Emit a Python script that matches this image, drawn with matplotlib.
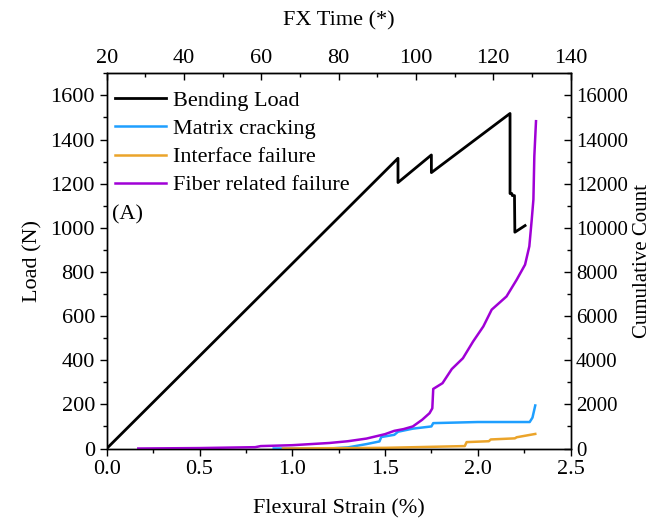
import matplotlib
matplotlib.use('Agg')
import matplotlib.pyplot as plt
from matplotlib.ticker import MultipleLocator

plt.rcParams['font.family'] = ['Liberation Serif', 'DejaVu Serif']
plt.rcParams['mathtext.fontset'] = 'stix'

# bending load curve
strain_load = [0, 1.57, 1.57, 1.75, 1.75, 2.174, 2.174, 2.184, 2.186, 2.198, 2.200, 2.255]
load = [0, 1315, 1205, 1330, 1250, 1518, 1155, 1155, 1146, 1146, 980, 1010]

# cumulative AE counts per damage mode
strain_matrix = [0.9, 1.2, 1.3, 1.4, 1.47, 1.48, 1.55, 1.57, 1.65, 1.70, 1.75, 1.76, 2.0, 2.28, 2.295, 2.31]
count_matrix = [0, 0, 50, 200, 320, 520, 620, 760, 900, 950, 1000, 1150, 1200, 1200, 1400, 1950]

strain_interface = [0.95, 1.5, 1.93, 1.94, 2.06, 2.07, 2.2, 2.21, 2.31]
count_interface = [0, 30, 110, 290, 330, 410, 460, 510, 660]

strain_fiber = [0.17, 0.5, 0.80, 0.83, 1.0, 1.2, 1.3, 1.4, 1.5, 1.55, 1.6, 1.65, 1.70, 1.74,
                1.755, 1.76, 1.81, 1.86, 1.92, 1.975, 2.03, 2.075, 2.155, 2.21, 2.255,
                2.278, 2.291, 2.30, 2.305, 2.314]
count_fiber = [0, 20, 60, 110, 150, 250, 330, 450, 650, 800, 880, 1000, 1300, 1600,
               1820, 2700, 2960, 3600, 4090, 4850, 5530, 6290, 6890, 7650, 8330,
               9160, 10370, 11280, 13245, 14830]

fig = plt.figure(figsize=(6.55, 5.25), dpi=100)
ax = fig.add_axes([0.163, 0.1457, 0.708, 0.7147])
ax2 = ax.twinx()

fs = 16
l1, = ax.plot(strain_load, load, color='black', lw=2.0, label='Bending Load')
l2, = ax2.plot(strain_matrix, count_matrix, color='#1E9FFF', lw=1.8, label='Matrix cracking')
l3, = ax2.plot(strain_interface, count_interface, color='#EBA42A', lw=1.8, label='Interface failure')
l4, = ax2.plot(strain_fiber, count_fiber, color='#A000D6', lw=1.8, label='Fiber related failure')

ax.set_xlim(0, 2.5)
ax.set_ylim(0, 1700)
ax2.set_ylim(0, 17000)

ax.xaxis.set_major_locator(MultipleLocator(0.5))
ax.xaxis.set_minor_locator(MultipleLocator(0.25))
ax.yaxis.set_major_locator(MultipleLocator(200))
ax.yaxis.set_minor_locator(MultipleLocator(100))
ax2.yaxis.set_major_locator(MultipleLocator(2000))
ax2.yaxis.set_minor_locator(MultipleLocator(1000))

ax.tick_params(axis='both', which='major', direction='out', length=5, width=1, labelsize=fs)
ax.tick_params(axis='both', which='minor', direction='out', length=3, width=1)
ax2.tick_params(axis='y', which='major', direction='in', length=5, width=1, labelsize=15, pad=4)
ax2.tick_params(axis='y', which='minor', direction='in', length=3, width=1)

top = ax.secondary_xaxis('top', functions=(lambda s: 20 + 48 * s, lambda t: (t - 20) / 48))
top.xaxis.set_major_locator(MultipleLocator(20))
top.xaxis.set_minor_locator(MultipleLocator(10))
top.tick_params(axis='x', which='major', direction='in', length=5, width=1, labelsize=fs)
top.tick_params(axis='x', which='minor', direction='in', length=3, width=1)
top.set_xlabel('FX Time (*)', fontsize=fs, labelpad=17)

for a in (ax, ax2):
    for sp in a.spines.values():
        sp.set_linewidth(1.0)

ax.set_xlabel('Flexural Strain (%)', fontsize=fs, labelpad=14)
ax.set_ylabel('Load (N)', fontsize=fs, labelpad=6)
ax2.set_ylabel('Cumulative Count', fontsize=15)
ax2.yaxis.set_label_coords(1.134, 0.5)

ax.text(0.03, 1060, '(A)', fontsize=fs, va='center', ha='left')

ax2.legend(handles=[l1, l2, l3, l4], loc='upper left', bbox_to_anchor=(0.018, 0.954),
           frameon=False, fontsize=fs, handlelength=2.3, handletextpad=0.3,
           labelspacing=0.34, borderpad=0, borderaxespad=0)

fig.savefig('out.png', dpi=100)
